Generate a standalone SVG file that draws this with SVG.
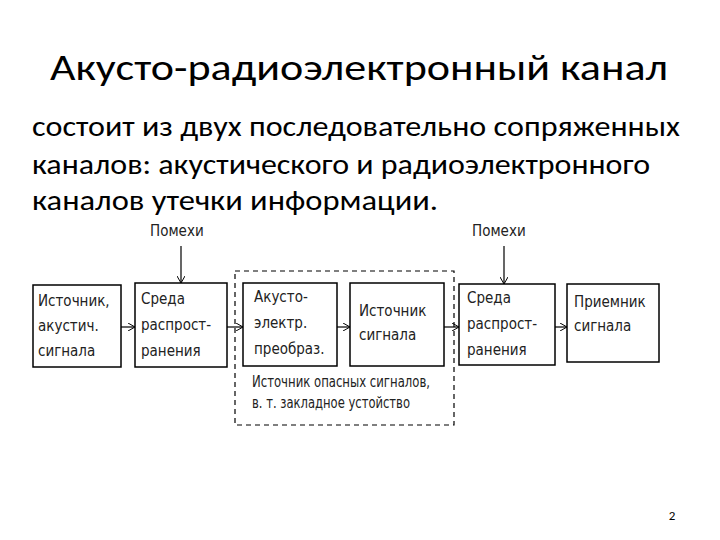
<svg xmlns="http://www.w3.org/2000/svg" width="720" height="540" viewBox="0 0 720 540">
<defs><marker id="a" markerWidth="8" markerHeight="8" refX="7" refY="4" orient="auto" markerUnits="userSpaceOnUse"><path d="M0,0 L7,4 L0,8" fill="none" stroke="#000" stroke-width="1"/></marker></defs>
<style>
.t{font-family:Calibri,"Carlito","Liberation Sans",sans-serif;fill:#000}
.b{fill:#fff;stroke:#000;stroke-width:1.5}
.s{font-family:"DejaVu Sans Condensed","Liberation Sans Narrow","Liberation Sans",sans-serif;font-size:15px;fill:#222}
.c{stroke:#000;stroke-width:1.2;fill:none;marker-end:url(#a)}
</style>
<rect width="720" height="540" fill="#fff"/>
<text class="t" x="50" y="80" font-size="36" textLength="618" lengthAdjust="spacingAndGlyphs">Акусто-радиоэлектронный канал</text>
<text class="t" font-size="28"><tspan x="32" y="136" textLength="648" lengthAdjust="spacingAndGlyphs">состоит из двух последовательно сопряженных</tspan><tspan x="32" y="174" textLength="618" lengthAdjust="spacingAndGlyphs">каналов: акустического и радиоэлектронного</tspan><tspan x="32" y="210" textLength="406" lengthAdjust="spacingAndGlyphs">каналов утечки информации.</tspan></text>
<rect x="235" y="271" width="219" height="154" fill="none" stroke="#000" stroke-width="1.2" stroke-dasharray="5,4"/>
<text class="s" x="150" y="236">Помехи</text>
<text class="s" x="472" y="236">Помехи</text>
<g id="n1"><rect class="b" x="33" y="285" width="88" height="82" stroke-width="2"/><text class="s"><tspan x="38" y="306">Источник,</tspan><tspan x="38" y="331">акустич.</tspan><tspan x="38" y="356">сигнала</tspan></text></g>
<g id="n2"><rect class="b" x="135" y="283" width="92" height="84"/><text class="s"><tspan x="141" y="304">Среда</tspan><tspan x="141" y="330">распрост-</tspan><tspan x="141" y="356">ранения</tspan></text></g>
<g id="n3"><rect class="b" x="243" y="283" width="94" height="83"/><text class="s"><tspan x="254" y="302">Акусто-</tspan><tspan x="254" y="328">электр.</tspan><tspan x="254" y="354">преобраз.</tspan></text></g>
<g id="n4"><rect class="b" x="350" y="283" width="94" height="83"/><text class="s"><tspan x="359" y="316">Источник</tspan><tspan x="359" y="340">сигнала</tspan></text></g>
<g id="n5"><rect class="b" x="459" y="284" width="96" height="81"/><text class="s"><tspan x="467" y="303">Среда</tspan><tspan x="467" y="329">распрост-</tspan><tspan x="467" y="355">ранения</tspan></text></g>
<g id="n6"><rect class="b" x="567" y="284" width="92" height="78"/><text class="s"><tspan x="574" y="307">Приемник</tspan><tspan x="574" y="331">сигнала</tspan></text></g>
<text class="s" font-size="14"><tspan x="252" y="387" textLength="178" lengthAdjust="spacingAndGlyphs">Источник опасных сигналов,</tspan><tspan x="252" y="408" textLength="158" lengthAdjust="spacingAndGlyphs">в. т. закладное устойство</tspan></text>
<g id="connectors">
<path class="c" d="M121,327 H135"/>
<path class="c" d="M227,327 H243"/>
<path class="c" d="M337,327 H350"/>
<path class="c" d="M444,327 H459"/>
<path class="c" d="M555,327 H567"/>
<path class="c" d="M181,246 V283"/>
<path class="c" d="M504,246 V284"/>
</g>
<text class="t" x="672" y="520" font-size="13" text-anchor="middle">2</text>
</svg>
